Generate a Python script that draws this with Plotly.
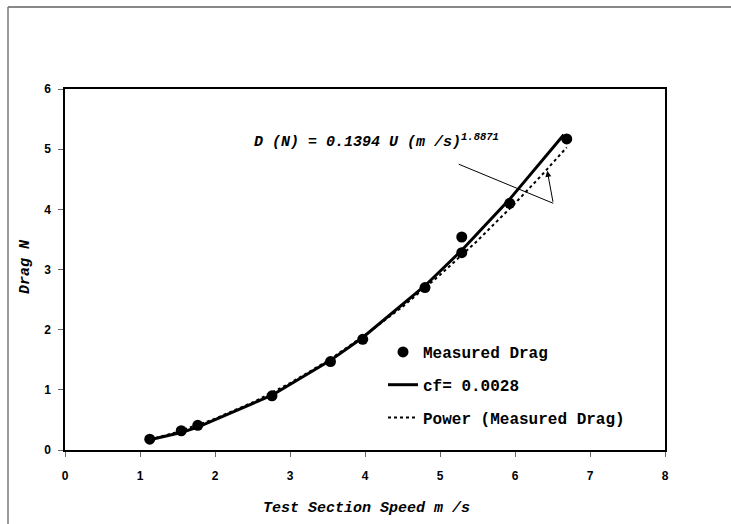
import plotly.graph_objects as go

# Measured drag data
speed = [1.13, 1.55, 1.77, 2.76, 3.54, 3.97, 4.80, 5.29, 5.29, 5.93, 6.69]
drag = [0.18, 0.32, 0.41, 0.90, 1.47, 1.84, 2.70, 3.54, 3.28, 4.10, 5.17]

# cf = 0.0028 line
cf_speed = [1.13, 1.55, 1.77, 2.76, 3.54, 3.97, 4.80, 5.29, 5.93, 6.65]
cf_drag = [0.17, 0.29, 0.38, 0.91, 1.49, 1.87, 2.73, 3.32, 4.17, 5.24]

# Power trendline
pw_speed = [1.13, 1.5, 2.0, 2.5, 3.0, 3.5, 4.0, 4.5, 5.0, 5.5, 6.0, 6.35, 6.69]
pw_drag = [0.17, 0.30, 0.52, 0.79, 1.11, 1.48, 1.91, 2.38, 2.91, 3.48, 4.10, 4.56, 5.03]

x_ticks = [0, 1, 2, 3, 4, 5, 6, 7, 8]
y_ticks = [0, 1, 2, 3, 4, 5, 6]

MONO = "Liberation Mono, Courier New, monospace"
SANS = "Liberation Sans, Arial, sans-serif"

fig = go.Figure()
fig.add_trace(go.Scatter(
    x=speed, y=drag, mode="markers", name="Measured Drag",
    marker=dict(color="black", size=11), legendgroup="a"))
fig.add_trace(go.Scatter(
    x=cf_speed, y=cf_drag, mode="lines", name="cf= 0.0028",
    line=dict(color="black", width=3), legendgroup="b"))
fig.add_trace(go.Scatter(
    x=pw_speed, y=pw_drag, mode="lines", name="Power (Measured Drag)",
    line=dict(color="black", width=2, dash="dot"), legendgroup="c"))

L, R, T, B = 65, 66, 89, 74
W, H = 731, 524
pw = W - L - R
ph = H - T - B


def px2paper(px, py):
    return (px - L) / pw, (H - B - py) / ph


axis_common = dict(
    showgrid=False, zeroline=False, showline=True, linecolor="black",
    linewidth=1.5, mirror=True, ticks="outside", ticklen=5,
    tickcolor="#666", tickwidth=1,
    tickfont=dict(family=SANS, size=12, color="black", weight="bold"),
)

fig.update_layout(
    width=W, height=H,
    margin=dict(l=L, r=R, t=T, b=B),
    paper_bgcolor="white", plot_bgcolor="white",
    xaxis=dict(range=[0, 8], tickvals=x_ticks, ticklabelstandoff=9, **axis_common),
    yaxis=dict(range=[0, 6], tickvals=y_ticks, ticklabelstandoff=5, **axis_common),
    showlegend=True,
    legend=dict(
        x=px2paper(383, 0)[0], y=px2paper(0, 335)[1], xanchor="left", yanchor="top",
        traceorder="grouped", tracegroupgap=9, bgcolor="rgba(0,0,0,0)",
        font=dict(family=MONO, size=16, color="black", weight="bold"),
    ),
)

# axis titles
tx, ty = px2paper(366, 508)
fig.add_annotation(xref="paper", yref="paper", x=tx, y=ty, text="Test Section Speed m /s",
                   xanchor="center", yanchor="middle", showarrow=False,
                   font=dict(family=MONO, size=15, color="black", weight="bold", style="italic"))
tx, ty = px2paper(25, 267)
fig.add_annotation(xref="paper", yref="paper", x=tx, y=ty, text="Drag N", textangle=-90,
                   xanchor="center", yanchor="middle", showarrow=False,
                   font=dict(family=MONO, size=15, color="black", weight="bold", style="italic"))

# equation
fig.add_annotation(x=2.49, y=5.14, xanchor="left", yanchor="middle",
                   text="D (N) = 0.1394 U (m /s)<sup>1.8871</sup>", showarrow=False,
                   font=dict(family=MONO, size=15, color="black", weight="bold", style="italic"))

# leader line and arrow
fig.add_shape(type="line", x0=5.25, y0=4.75, x1=6.51, y1=4.10, line=dict(color="black", width=1))
fig.add_annotation(x=6.43, y=4.64, ax=6.51, ay=4.10, axref="x", ayref="y", xref="x", yref="y",
                   text="", showarrow=True, arrowhead=2, arrowsize=1.2, arrowwidth=1, arrowcolor="black")

# outer page frame
x0, y0 = px2paper(8, 7)
x1, _ = px2paper(731, 7)
_, y1 = px2paper(8, 524)
fig.add_shape(type="line", xref="paper", yref="paper", x0=x0, y0=y0, x1=x1, y1=y0,
              line=dict(color="#888", width=2))
fig.add_shape(type="line", xref="paper", yref="paper", x0=x0, y0=y0, x1=x0, y1=y1,
              line=dict(color="#777", width=1.5))

fig.write_html("out.html")
